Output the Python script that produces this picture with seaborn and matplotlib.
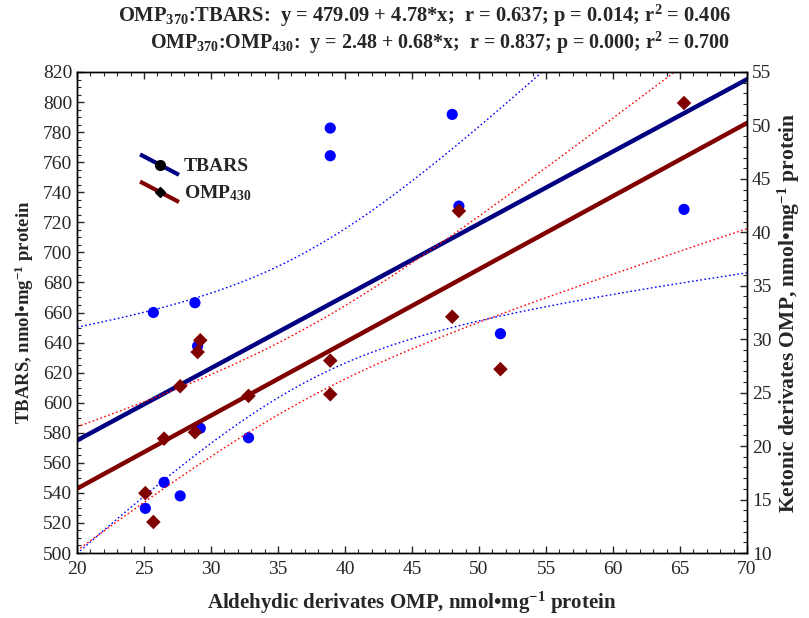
import numpy as np
import pandas as pd
import matplotlib
matplotlib.use("Agg")
import matplotlib.pyplot as plt
import seaborn as sns
from matplotlib.lines import Line2D
from matplotlib.legend_handler import HandlerLine2D
from matplotlib.ticker import MultipleLocator

# ---- data ----
omp370 = [25.1, 25.7, 26.5, 27.7, 28.8, 29.0, 29.2, 32.8, 38.9, 38.9, 48.0, 48.5, 51.6, 65.3]
tbars = [529.7, 660.0, 547.0, 538.0, 666.5, 637.7, 583.0, 576.7, 782.7, 764.3, 791.8, 730.8, 645.9, 728.6]
omp430 = [15.6, 12.9, 20.7, 25.6, 21.3, 28.8, 29.9, 24.7, 28.0, 24.85, 32.1, 42.0, 27.2, 52.1]

title_lines = [
    r"OMP$_{370}$:TBARS:  y = 479.09 + 4.78*x;  r = 0.637; p = 0.014; r$^{2}$ = 0.406",
    r"OMP$_{370}$:OMP$_{430}$:  y = 2.48 + 0.68*x;  r = 0.837; p = 0.000; r$^{2}$ = 0.700",
]
xlabel = r"Aldehydic derivates OMP, nmol•mg$^{-1}$ protein"
ylabel_left = r"TBARS, nmol•mg$^{-1}$ protein"
ylabel_right = r"Ketonic derivates OMP, nmol•mg$^{-1}$ protein"
legend_labels = ["TBARS", r"OMP$_{430}$"]

sns.set_style("ticks")
plt.rcParams["font.family"] = ["Liberation Serif", "DejaVu Serif"]
plt.rcParams["mathtext.fontset"] = "custom"
plt.rcParams["mathtext.rm"] = "Liberation Serif:bold"
plt.rcParams["mathtext.it"] = "Liberation Serif:bold"
plt.rcParams["mathtext.bf"] = "Liberation Serif:bold"

df = pd.DataFrame({"x": omp370, "t": tbars, "k": omp430})

def fit_ci(x, y, grid, tcrit=2.179):
    x = np.asarray(x); y = np.asarray(y)
    n = len(x)
    b, a = np.polyfit(x, y, 1)
    res = y - (a + b * x)
    s = np.sqrt(np.sum(res ** 2) / (n - 2))
    sxx = np.sum((x - x.mean()) ** 2)
    yhat = a + b * grid
    se = s * np.sqrt(1.0 / n + (grid - x.mean()) ** 2 / sxx)
    return yhat, yhat - tcrit * se, yhat + tcrit * se

grid = np.linspace(20, 70, 200)
t_fit, t_lo, t_hi = fit_ci(df.x, df.t, grid)
k_fit, k_lo, k_hi = fit_ci(df.x, df.k, grid)

fig = plt.figure(figsize=(8.09, 6.18), dpi=100)
ax = fig.add_axes([77 / 809, 1 - 553 / 618, 670 / 809, 481 / 618])
ax2 = ax.twinx()

navy = "#000080"
maroon = "#800000"
blue = "#0000FF"
red = "#FF0000"
dot = (0, (1.2, 1.8))

# TBARS on left axis
sns.lineplot(x=grid, y=t_hi, ax=ax, color=blue, lw=1.0, linestyle=dot)
sns.lineplot(x=grid, y=t_lo, ax=ax, color=blue, lw=1.0, linestyle=dot)
sns.lineplot(x=grid, y=t_fit, ax=ax, color=navy, lw=3.2)
sns.scatterplot(data=df, x="x", y="t", ax=ax, color=blue, s=65, marker="o",
                edgecolor="none", zorder=5)

# OMP430 on right axis
sns.lineplot(x=grid, y=k_hi, ax=ax2, color=red, lw=1.0, linestyle=dot)
sns.lineplot(x=grid, y=k_lo, ax=ax2, color=red, lw=1.0, linestyle=dot)
sns.lineplot(x=grid, y=k_fit, ax=ax2, color=maroon, lw=3.2)
sns.scatterplot(data=df, x="x", y="k", ax=ax2, color=maroon, s=55, marker="D",
                edgecolor="none", zorder=5)

ax.set_xlim(20, 70)
ax.set_ylim(500, 820)
ax2.set_ylim(10, 55)

ax.xaxis.set_major_locator(MultipleLocator(5))
ax.xaxis.set_minor_locator(MultipleLocator(1))
ax.yaxis.set_major_locator(MultipleLocator(20))
ax.yaxis.set_minor_locator(MultipleLocator(5))
ax2.yaxis.set_major_locator(MultipleLocator(5))
ax2.yaxis.set_minor_locator(MultipleLocator(1))

ax.tick_params(axis="both", which="both", direction="in", labelsize=14, top=True)
ax.tick_params(which="major", length=5, width=1)
ax.tick_params(which="minor", length=3, width=0.8)
ax.tick_params(axis="y", which="both", right=False)
ax.tick_params(axis="x", which="major", pad=6)
ax2.tick_params(axis="y", which="both", direction="in", labelsize=14)
ax2.tick_params(which="major", length=5, width=1)
ax2.tick_params(which="minor", length=3, width=0.8)
for a in (ax, ax2):
    for sp in a.spines.values():
        sp.set_visible(True)
        sp.set_linewidth(1.0)
        sp.set_color("black")

ax.set_xlabel(xlabel, fontsize=15, fontweight="bold", labelpad=8)
ax.set_ylabel(ylabel_left, fontsize=13.5, fontweight="bold", labelpad=5)
ax2.set_ylabel(ylabel_right, fontsize=15.5, fontweight="bold", labelpad=3)

fig.text(425 / 809, 1 - 16 / 618, title_lines[0], ha="center", va="center",
         fontsize=14.8, fontweight="bold")
fig.text(440 / 809, 1 - 43 / 618, title_lines[1], ha="center", va="center",
         fontsize=14.4, fontweight="bold")


class DiagHandler(HandlerLine2D):
    def create_artists(self, legend, orig_handle, xdescent, ydescent,
                       width, height, fontsize, trans):
        x0, x1 = -xdescent, -xdescent + width
        y0, y1 = -ydescent + height * 1.25, -ydescent - height * 0.25
        line = Line2D([x0, x1], [y0, y1], color=orig_handle.get_color(),
                      lw=orig_handle.get_linewidth(), solid_capstyle="butt")
        mk = Line2D([(x0 + x1) / 2], [(y0 + y1) / 2],
                    marker=orig_handle.get_marker(), color="black",
                    markersize=orig_handle.get_markersize(), linestyle="none")
        line.set_transform(trans)
        mk.set_transform(trans)
        return [line, mk]


h1 = Line2D([], [], color=navy, lw=3.0, marker="o", markersize=7)
h2 = Line2D([], [], color=maroon, lw=3.0, marker="D", markersize=5)
leg = ax.legend([h1, h2], legend_labels, loc="upper left",
                bbox_to_anchor=(0.068, 0.858), frameon=False,
                handler_map={Line2D: DiagHandler()}, handlelength=2.0,
                handletextpad=0.25, labelspacing=0.42,
                prop={"weight": "bold", "size": 14})

fig.savefig("out.png", dpi=100)
